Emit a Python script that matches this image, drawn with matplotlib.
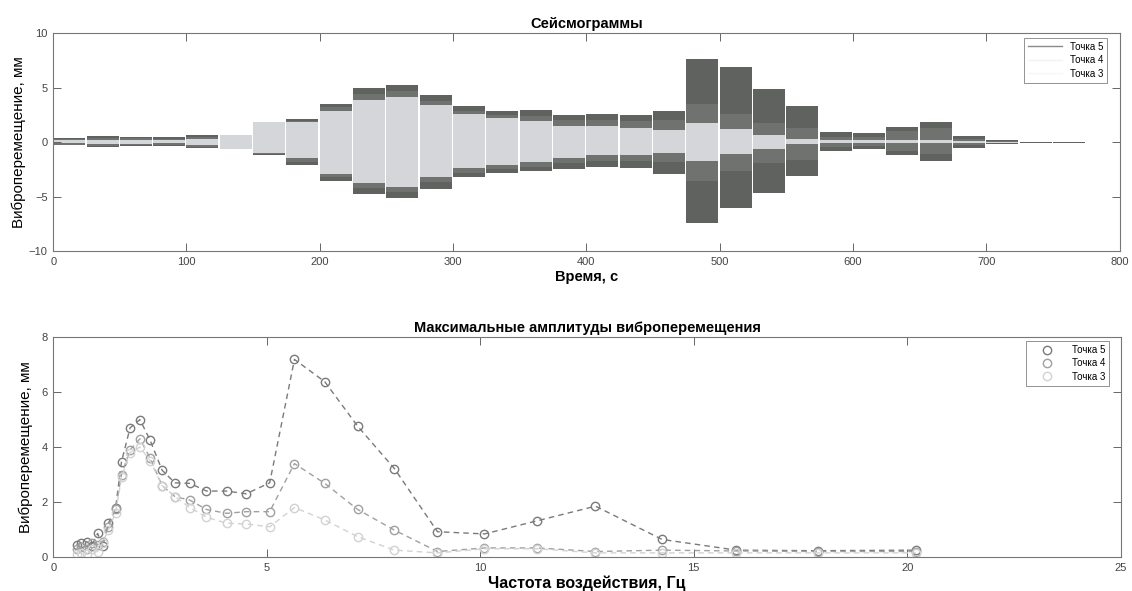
import numpy as np
import matplotlib
matplotlib.use("Agg")
import matplotlib.pyplot as plt

plt.rcParams['font.family'] = ['Liberation Sans', 'DejaVu Sans']

# --- seismogram: one record per 25 s excitation step (envelope of each point)
seg_t0 = list(range(0, 751, 25))
seg_len = 24

up5 = [0.41, 0.53, 0.47, 0.43, 0.68, 0.45, 1.30, 2.13, 3.50, 4.94, 5.24, 4.29, 3.29, 2.81, 2.91, 2.51,
       2.56, 2.47, 2.82, 7.60, 6.85, 4.83, 3.34, 0.90, 0.80, 1.37, 1.88, 0.58, 0.15, 0.05, 0.05]
lo5 = [-0.29, -0.44, -0.40, -0.33, -0.54, -0.45, -1.20, -2.06, -3.52, -4.78, -5.10, -4.28, -3.22, -2.79, -2.65, -2.47,
       -2.30, -2.33, -2.90, -7.46, -6.06, -4.65, -3.15, -0.82, -0.60, -1.17, -1.70, -0.50, -0.15, -0.05, -0.05]
up4 = [0.30, 0.40, 0.35, 0.33, 0.50, 0.40, 1.20, 1.95, 3.20, 4.40, 4.70, 3.80, 2.90, 2.50, 2.40, 2.00,
       2.00, 1.90, 2.00, 3.50, 2.56, 1.77, 1.29, 0.50, 0.45, 1.00, 1.30, 0.30, 0.10, 0.03, 0.03]
lo4 = [-0.22, -0.33, -0.30, -0.25, -0.42, -0.40, -1.05, -1.80, -3.20, -4.25, -4.60, -3.70, -2.80, -2.45, -2.25, -1.95,
       -1.70, -1.75, -1.80, -3.55, -2.64, -1.90, -1.61, -0.45, -0.40, -0.80, -1.10, -0.30, -0.10, -0.03, -0.03]
up3 = [0.15, 0.20, 0.18, 0.16, 0.30, 0.66, 1.84, 1.82, 2.90, 3.90, 4.17, 3.38, 2.59, 2.17, 1.94, 1.50,
       1.49, 1.34, 1.14, 1.80, 1.18, 0.63, 0.25, 0.15, 0.15, 0.15, 0.15, 0.12, 0.05, 0.02, 0.02]
lo3 = [-0.08, -0.15, -0.14, -0.10, -0.25, -0.64, -1.00, -1.50, -2.93, -3.77, -4.09, -3.20, -2.39, -2.12, -1.83, -1.46,
       -1.17, -1.20, -1.00, -1.77, -1.05, -0.59, -0.20, -0.10, -0.10, -0.12, -0.12, -0.10, -0.05, -0.02, -0.02]

# --- peak amplitudes vs excitation frequency
freq = [0.55, 0.65, 0.79, 0.90, 1.04, 1.16, 1.29, 1.46, 1.60, 1.80, 2.03, 2.27, 2.55, 2.85, 3.20, 3.59,
        4.06, 4.52, 5.07, 5.65, 6.36, 7.13, 7.99, 9.00, 10.10, 11.34, 12.70, 14.26, 16.00, 17.90, 20.20]
amp5 = [0.44, 0.50, 0.56, 0.40, 0.86, 0.40, 1.22, 1.77, 3.47, 4.70, 5.00, 4.25, 3.16, 2.70, 2.68, 2.40,
        2.40, 2.30, 2.70, 7.19, 6.38, 4.76, 3.22, 0.92, 0.84, 1.32, 1.85, 0.64, 0.25, 0.23, 0.25]
amp4 = [0.30, 0.35, 0.30, 0.50, 0.45, 0.55, 1.10, 1.75, 3.00, 3.90, 4.30, 3.60, 2.60, 2.20, 2.07, 1.73,
        1.59, 1.65, 1.65, 3.40, 2.68, 1.73, 0.98, 0.20, 0.33, 0.33, 0.20, 0.25, 0.22, 0.20, 0.20]
amp3 = [0.10, 0.15, 0.10, 0.30, 0.20, 0.50, 1.00, 1.60, 2.90, 3.80, 4.00, 3.50, 2.60, 2.20, 1.80, 1.45,
        1.23, 1.20, 1.10, 1.80, 1.35, 0.74, 0.25, 0.15, 0.30, 0.30, 0.15, 0.15, 0.15, 0.15, 0.15]

labels = ['Точка 5', 'Точка 4', 'Точка 3']
seis_col = ['#5f625f', '#6f726f', '#d4d6d9']
amp_col = ['#7a7a7a', '#a0a0a0', '#d2d2d2']


def matlab_axes(ax):
    for s in ax.spines.values():
        s.set_color('#777777')
        s.set_linewidth(0.8)
    ax.tick_params(direction='in', top=True, right=True, length=6, width=0.7,
                   color='#666666', labelsize=8, labelcolor='#444444', pad=4)


fig = plt.figure(figsize=(11.32, 5.91), dpi=100)

# top: seismograms
ax1 = fig.add_axes([0.047, 0.575, 0.942, 0.369])
for up, lo, c in zip([up5, up4, up3], [lo5, lo4, lo3], seis_col):
    ax1.bar(seg_t0, np.array(up) - np.array(lo), bottom=lo, width=seg_len,
            align='edge', color=c, linewidth=0)
ax1.set_xlim(0, 800)
ax1.set_ylim(-10, 10)
ax1.set_xticks(range(0, 801, 100))
ax1.set_yticks([-10, -5, 0, 5, 10])
matlab_axes(ax1)
ax1.set_title('Сейсмограммы', fontsize=10.5, fontweight='bold', pad=4)
ax1.set_xlabel('Время, с', fontsize=10.5, fontweight='bold', labelpad=2)
ax1.set_ylabel('Виброперемещение, мм', fontsize=11, labelpad=2)
h = [ax1.plot([], [], color=c, lw=1)[0] for c in ['#8a8a8a', '#f2f2f2', '#f6f6f6']]
leg1 = ax1.legend(h, labels, loc='upper right', fontsize=7, frameon=True, fancybox=False,
                  edgecolor='#777777', handlelength=3.5, borderpad=0.4, labelspacing=0.35,
                  borderaxespad=0.5, bbox_to_anchor=(0.993, 1.0))
leg1.get_frame().set_linewidth(0.7)

# bottom: peak amplitudes
ax2 = fig.add_axes([0.047, 0.0575, 0.943, 0.372])
for a, c, lab in zip([amp5, amp4, amp3], amp_col, labels):
    ax2.plot(freq, a, linestyle='--', dashes=(4, 3), color=c, lw=1.0, marker='o',
             mfc='none', mec=c, ms=6, mew=1.0, label=lab)
ax2.set_xlim(0, 25)
ax2.set_ylim(0, 8)
ax2.set_xticks(range(0, 26, 5))
ax2.set_yticks(range(0, 9, 2))
matlab_axes(ax2)
ax2.set_title('Максимальные амплитуды виброперемещения', fontsize=10.5, fontweight='bold', pad=4)
ax2.set_xlabel('Частота воздействия, Гц', fontsize=11.5, fontweight='bold', labelpad=2)
ax2.set_ylabel('Виброперемещение, мм', fontsize=11, labelpad=6)
leg2 = ax2.legend(loc='upper right', fontsize=7, frameon=True, fancybox=False,
                  edgecolor='#777777', handlelength=3.5, borderpad=0.4, labelspacing=0.35,
                  borderaxespad=0.4, bbox_to_anchor=(0.993, 1.0))
leg2.get_frame().set_linewidth(0.7)
for ln in leg2.get_lines():
    ln.set_linestyle('none')

fig.savefig('out.png', dpi=100)
